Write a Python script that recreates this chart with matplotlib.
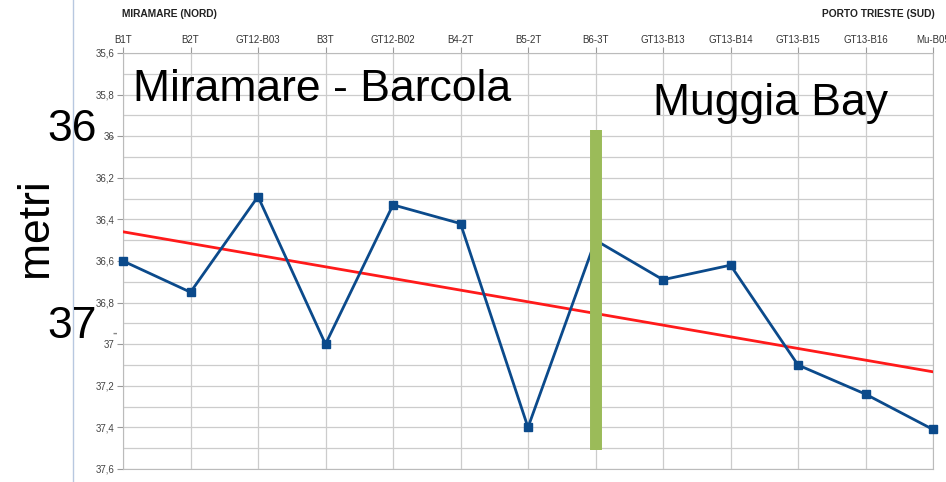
import matplotlib.pyplot as plt
import numpy as np
from matplotlib.lines import Line2D

plt.rcParams['font.family'] = ['Liberation Sans', 'DejaVu Sans']

stations = ['B1T', 'B2T', 'GT12-B03', 'B3T', 'GT12-B02', 'B4-2T', 'B5-2T',
            'B6-3T', 'GT13-B13', 'GT13-B14', 'GT13-B15', 'GT13-B16', 'Mu-B05']
depth = [36.60, 36.75, 36.29, 37.00, 36.33, 36.42, 37.40,
         36.50, 36.69, 36.62, 37.10, 37.24, 37.41]
y_ticks = [35.6, 35.8, 36.0, 36.2, 36.4, 36.6, 36.8, 37.0, 37.2, 37.4, 37.6]
y_tick_labels = ['35,6', '35,8', '36', '36,2', '36,4', '36,6', '36,8', '37', '37,2', '37,4', '37,6']
divider_station = 'B6-3T'
divider_range = [35.97, 37.51]

x = np.arange(len(stations))

fig = plt.figure(figsize=(9.46, 4.82), dpi=100)
ax = fig.add_axes([123 / 946, 1 - 469 / 482, 810 / 946, 416 / 482])

# trend line (least squares fit)
k, b = np.polyfit(x, depth, 1)
ax.plot(x, k * x + b, color='#ff1a1a', lw=2.0, zorder=3)

ax.plot(x, depth, color='#0b4a8b', lw=2.0, marker='s', ms=5.5, zorder=4, clip_on=False)

dx = stations.index(divider_station)
ax.vlines(dx, divider_range[0], divider_range[1], color='#9bbb59', lw=8.6, zorder=5)

ax.set_xlim(0, len(stations) - 1)
ax.set_ylim(37.6, 35.6)
ax.set_xticks(x)
ax.set_xticklabels(stations, fontsize=7, color='#333333')
ax.xaxis.tick_top()
ax.set_yticks(y_ticks)
ax.set_yticklabels(y_tick_labels, fontsize=7, color='#444444')
ax.set_yticks(np.arange(35.6, 37.65, 0.1), minor=True)
ax.tick_params(axis='y', which='minor', length=0)
ax.tick_params(axis='both', which='major', length=4, color='#999999', pad=2)
ax.grid(True, which='both', color='#cccccc', lw=0.9)
ax.set_axisbelow(True)
for s in ax.spines.values():
    s.set_color('#bbbbbb')

ax.text(0.15, 35.83, 'Miramare - Barcola', fontsize=32, color='black', va='baseline', zorder=6)
ax.text(7.85, 35.9, 'Muggia Bay', fontsize=32, color='black', va='baseline', zorder=6)

fig.text(122 / 946, 1 - 14 / 482, 'MIRAMARE (NORD)', fontsize=7.4, fontweight='bold',
         ha='left', va='center', color='#222222')
fig.text(935 / 946, 1 - 14 / 482, 'PORTO TRIESTE (SUD)', fontsize=7.4, fontweight='bold',
         ha='right', va='center', color='#222222')

fig.text(72 / 946, 1 - 130 / 482, '36', fontsize=32, ha='center', va='center')
fig.text(72 / 946, 1 - 326 / 482, '37', fontsize=32, ha='center', va='center')
fig.text(36 / 946, 1 - 228 / 482, 'metri', fontsize=32, rotation=90, ha='center', va='center')
fig.text(112 / 946, 1 - 137 / 482, '-', fontsize=10, fontweight='bold', color='#888888',
         ha='center', va='center')
fig.text(115 / 946, 1 - 333 / 482, '-', fontsize=10, fontweight='bold', color='#888888',
         ha='center', va='center')

fig.add_artist(Line2D([73 / 946, 73 / 946], [0, 1], color='#b8c8e0', lw=1.0))

fig.savefig('out.png', dpi=100)
